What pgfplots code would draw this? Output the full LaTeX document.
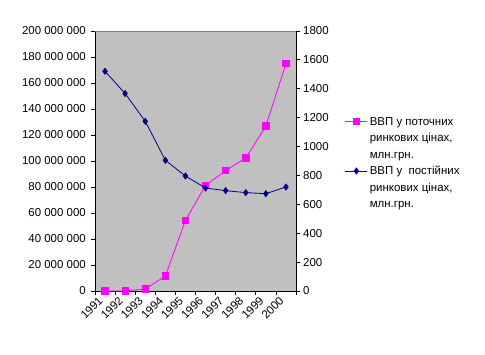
\documentclass[border=0pt]{standalone}
\usepackage{fontspec}
\setmainfont{Liberation Sans}
\usepackage{pgfplots}
\pgfplotsset{compat=1.18}
\definecolor{plotbg}{RGB}{192,192,192}
\definecolor{pinkc}{RGB}{255,0,255}
\definecolor{navyc}{RGB}{0,0,128}
\newcommand{\ls}{\rule[-4bp]{0pt}{15bp}}
\newcommand{\lsl}{\rule[-7bp]{0pt}{18bp}}
\begin{document}
\begin{tikzpicture}[x=1bp,y=1bp]
\useasboundingbox (0,0) rectangle (485,354);
\begin{axis}[
  at={(95bp,63bp)}, anchor=south west,
  scale only axis, width=201bp, height=260bp,
  xmin=1990.5, xmax=2000.5, ymin=0, ymax=200000000,
  scaled y ticks=false,
  axis x line*=bottom, axis y line*=left,
  axis line style={-, black, line width=0.8bp},
  axis background/.style={fill=plotbg},
  tick align=outside, major tick length=4bp,
  tick style={black, line width=0.8bp},
  xtick={1990.5,1991.5,1992.5,1993.5,1994.5,1995.5,1996.5,1997.5,1998.5,1999.5,2000.5},
  xticklabels={1991,1992,1993,1994,1995,1996,1997,1998,1999,2000,{}},
  x tick label style={rotate=45, anchor=north east, font=\fontsize{11.5}{12}\selectfont, inner sep=1bp, xshift=2.5bp, yshift=-1.5bp},
  ytick={0,20000000,40000000,60000000,80000000,100000000,120000000,140000000,160000000,180000000,200000000},
  yticklabels={0,20 000 000,40 000 000,60 000 000,80 000 000,100 000 000,120 000 000,140 000 000,160 000 000,180 000 000,200 000 000},
  y tick label style={font=\fontsize{11.5}{12}\selectfont, inner sep=1bp, xshift=-4bp},
  after end axis/.code={\draw[gray, line width=0.8bp] (rel axis cs:0,1) -- (rel axis cs:1,1);},
  legend style={at={(1.2438,0.687)}, anchor=north west, draw=none, fill=none,
    inner sep=0pt, outer sep=0pt, row sep=0bp,
    font=\fontsize{11.5}{14}\selectfont,
    cells={anchor=base west, inner ysep=0pt, inner xsep=2bp}},
  legend image code/.code={\draw[yshift=3.8bp, mark repeat=2, mark phase=2, #1] plot coordinates {(0bp,0bp) (11bp,0bp) (22bp,0bp)};},
]
\addplot[pinkc, line width=0.8bp, mark=square*, mark size=3.2bp, mark options={fill=pinkc, solid}] coordinates {
  (1991,0) (1992,50000) (1993,1500000) (1994,11500000) (1995,54400000)
  (1996,81300000) (1997,92600000) (1998,102300000) (1999,126900000) (2000,174900000)};
\addlegendentry{\ls ВВП у поточних}
\addlegendimage{empty legend}
\addlegendentry{\ls ринкових цінах,}
\addlegendimage{empty legend}
\addlegendentry{\lsl млн.грн.}
\addlegendimage{navyc, line width=0.8bp, mark=diamond*, mark size=3bp, mark options={fill=navyc, solid}}
\addlegendentry{\ls ВВП у\ \ постійних}
\addlegendimage{empty legend}
\addlegendentry{\ls ринкових цінах,}
\addlegendimage{empty legend}
\addlegendentry{\ls млн.грн.}
\end{axis}
\begin{axis}[
  at={(95bp,63bp)}, anchor=south west,
  scale only axis, width=201bp, height=260bp,
  xmin=1990.5, xmax=2000.5, ymin=0, ymax=1800,
  axis y line*=right, axis x line=none,
  axis line style={-, black, line width=0.8bp},
  tick align=outside, major tick length=4bp,
  tick style={black, line width=0.8bp},
  ytick={0,200,400,600,800,1000,1200,1400,1600,1800},
  yticklabels={0,200,400,600,800,1000,1200,1400,1600,1800},
  y tick label style={font=\fontsize{11.5}{12}\selectfont, inner sep=1bp, xshift=2bp},
]
\addplot[navyc, line width=0.8bp, mark=diamond*, mark size=3bp, mark options={fill=navyc, solid}] coordinates {
  (1991,1521) (1992,1367) (1993,1175) (1994,905) (1995,796)
  (1996,713) (1997,695) (1998,681) (1999,674) (2000,720)};
\end{axis}
\end{tikzpicture}
\end{document}
